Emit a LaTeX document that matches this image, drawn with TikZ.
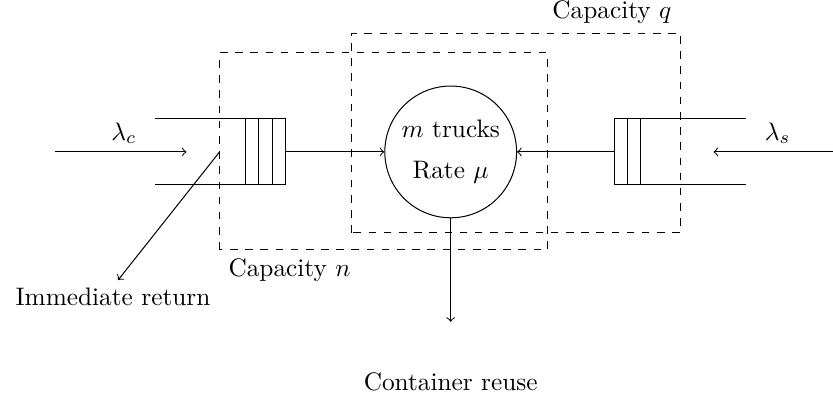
\documentclass[tikz,border=0pt]{standalone}
\usetikzlibrary{positioning}
\begin{document}
\begin{tikzpicture}[>=to]
\useasboundingbox (-6.26,-3.40) rectangle (5.31,2.11);

% server in the middle
\node[draw, circle, minimum size=1.83cm, inner sep=0pt, align=center] (server) at (0,0) {$m$ trucks\\[4pt] Rate $\mu$};

% capacity boxes
\draw[dashed] (-3.21,-1.36) rectangle (1.35,1.375);
\draw[dashed] (-1.375,-1.125) rectangle (3.19,1.65);
\node[anchor=north west] (capn) at (-3.21,-1.36) {Capacity $n$};
\node[anchor=south east] (capq) at (3.19,1.65) {Capacity $q$};

% left queue: open channel, then three cells
\draw (-4.11,0.458) -- (-2.29,0.458);
\draw (-4.11,-0.458) -- (-2.29,-0.458);
\draw (-2.85,-0.458) rectangle (-2.29,0.458);
\draw (-2.663,-0.458) -- (-2.663,0.458);
\draw (-2.477,-0.458) -- (-2.477,0.458);
\coordinate (lqout) at (-2.29,0);
\coordinate (split) at (-3.21,0);

% right queue: two cells
\draw (2.28,0.458) -- (4.10,0.458);
\draw (2.28,-0.458) -- (4.10,-0.458);
\draw (2.28,-0.458) rectangle (2.64,0.458);
\draw (2.46,-0.458) -- (2.46,0.458);
\coordinate (rqout) at (2.28,0);

% arrivals
\coordinate (cin) at (-5.49,0);
\coordinate (cend) at (-3.67,0);
\coordinate (sin) at (5.31,0);
\coordinate (send) at (3.65,0);
\draw[->] (cin) -- (cend);
\draw[->] (sin) -- (send);
\node (lamc) at (-4.54,0.26) {$\lambda_c$};
\node (lams) at (4.54,0.26) {$\lambda_s$};

% queues into server
\draw[->] (lqout) -- (server.west);
\draw[->] (rqout) -- (server.east);

% departures
\node (imm) at (-4.69,-2.02) {Immediate return};
\coordinate (immend) at (-4.62,-1.78);
\draw[->] (split) -- (immend);
\node (reuse) at (0,-3.19) {Container reuse};
\coordinate (reuseend) at (0,-2.36);
\draw[->] (server.south) -- (reuseend);
\end{tikzpicture}
\end{document}
